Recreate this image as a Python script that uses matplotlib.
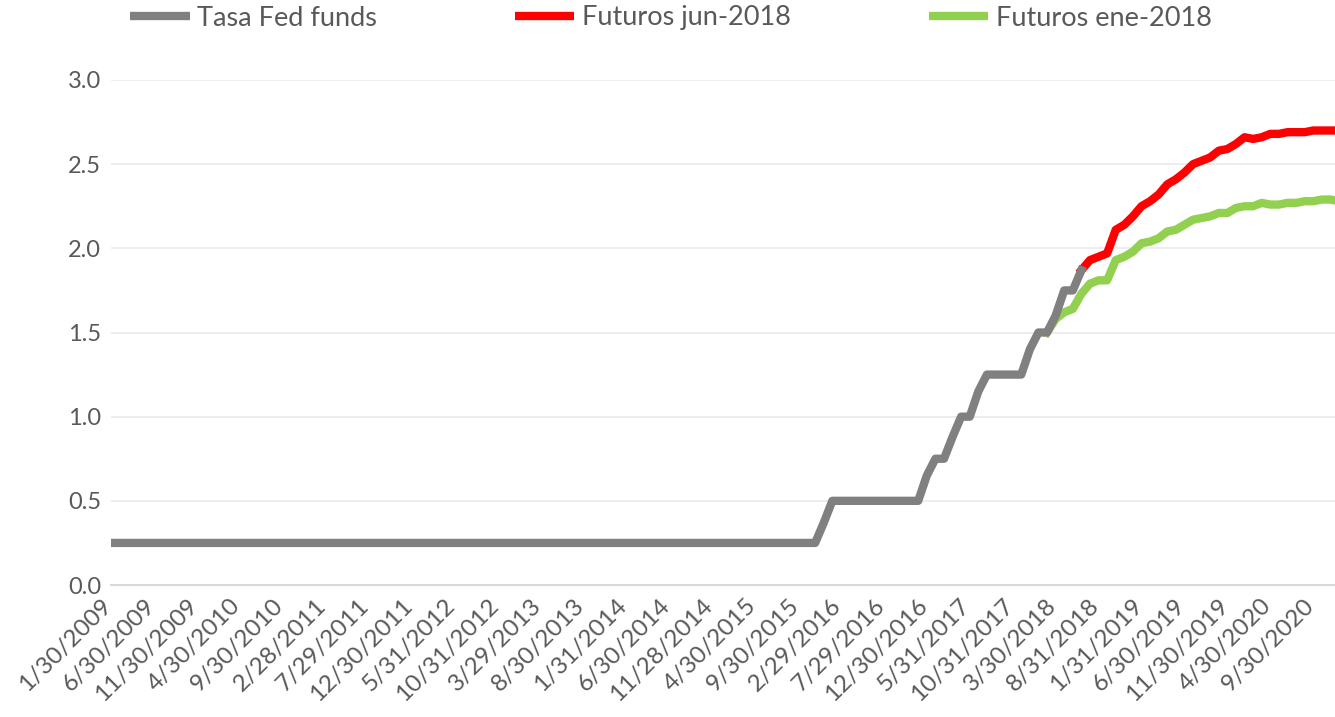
import numpy as np
import matplotlib.pyplot as plt
from matplotlib.transforms import ScaledTranslation

# Etiquetas del eje X (cada 5 meses, fin de mes hábil)
tick_labels = [
    "1/30/2009", "6/30/2009", "11/30/2009", "4/30/2010", "9/30/2010",
    "2/28/2011", "7/29/2011", "12/30/2011", "5/31/2012", "10/31/2012",
    "3/29/2013", "8/30/2013", "1/31/2014", "6/30/2014", "11/28/2014",
    "4/30/2015", "9/30/2015", "2/29/2016", "7/29/2016", "12/30/2016",
    "5/31/2017", "10/31/2017", "3/30/2018", "8/31/2018", "1/31/2019",
    "6/30/2019", "11/30/2019", "4/30/2020", "9/30/2020",
]
n_months = 144  # ene-2009 .. dic-2020

# Tasa Fed funds, mensual desde ene-2009 hasta jun-2018
fed_funds = [
    0.25, 0.25, 0.25, 0.25, 0.25, 0.25, 0.25, 0.25, 0.25, 0.25, 0.25, 0.25,
    0.25, 0.25, 0.25, 0.25, 0.25, 0.25, 0.25, 0.25, 0.25, 0.25, 0.25, 0.25,
    0.25, 0.25, 0.25, 0.25, 0.25, 0.25, 0.25, 0.25, 0.25, 0.25, 0.25, 0.25,
    0.25, 0.25, 0.25, 0.25, 0.25, 0.25, 0.25, 0.25, 0.25, 0.25, 0.25, 0.25,
    0.25, 0.25, 0.25, 0.25, 0.25, 0.25, 0.25, 0.25, 0.25, 0.25, 0.25, 0.25,
    0.25, 0.25, 0.25, 0.25, 0.25, 0.25, 0.25, 0.25, 0.25, 0.25, 0.25, 0.25,
    0.25, 0.25, 0.25, 0.25, 0.25, 0.25, 0.25, 0.25, 0.25, 0.25, 0.25, 0.37,
    0.50, 0.50, 0.50, 0.50, 0.50, 0.50, 0.50, 0.50, 0.50, 0.50, 0.50, 0.65,
    0.75, 0.75, 0.88, 1.00, 1.00, 1.15, 1.25, 1.25, 1.25, 1.25, 1.25, 1.40,
    1.50, 1.50, 1.60, 1.75, 1.75, 1.87,
]

# Futuros jun-2018, desde jun-2018
fut_jun18_start = 113
fut_jun18 = [
    1.87, 1.93, 1.95, 1.97, 2.11, 2.14, 2.19, 2.25, 2.28, 2.32, 2.38, 2.41,
    2.45, 2.50, 2.52, 2.54, 2.58, 2.59, 2.62, 2.66, 2.65, 2.66, 2.68, 2.68,
    2.69, 2.69, 2.69, 2.70, 2.70, 2.70, 2.70,
]

# Futuros ene-2018, desde feb-2018
fut_ene18_start = 109
fut_ene18 = [
    1.50, 1.58, 1.62, 1.64, 1.73, 1.79, 1.81, 1.81, 1.93, 1.95, 1.98, 2.03,
    2.04, 2.06, 2.10, 2.11, 2.14, 2.17, 2.18, 2.19, 2.21, 2.21, 2.24, 2.25,
    2.25, 2.27, 2.26, 2.26, 2.27, 2.27, 2.28, 2.28, 2.29, 2.29, 2.28,
]

plt.rcParams["font.family"] = ["Lato", "DejaVu Sans"]
txt_color = "#595959"

W, H = 1335, 717
fig = plt.figure(figsize=(W / 100, H / 100), dpi=100)
# el área de trazado sigue un poco más allá del borde derecho
ax = fig.add_axes([111 / W, 132 / H, (1339 - 111) / W, 505 / H])

lw = 6
ax.plot(np.arange(len(fed_funds)), fed_funds, color="#808080", lw=lw,
        solid_joinstyle="round", label="Tasa Fed funds", zorder=3)
ax.plot(np.arange(len(fut_jun18)) + fut_jun18_start, fut_jun18, color="#FF0000",
        lw=lw, solid_joinstyle="round", label="Futuros jun-2018", zorder=2)
ax.plot(np.arange(len(fut_ene18)) + fut_ene18_start, fut_ene18, color="#92D050",
        lw=lw, solid_joinstyle="round", label="Futuros ene-2018", zorder=2)

ax.set_xlim(0, n_months - 1)
ax.set_ylim(0, 3.0)
ax.set_yticks(np.arange(0, 3.01, 0.5))
ax.set_yticklabels([f"{v:.1f}" for v in np.arange(0, 3.01, 0.5)])

# etiquetas del eje X como texto, para poder desplazarlas como en Excel
tick_pos = np.arange(0, n_months, 5)
ax.set_xticks(tick_pos)
ax.set_xticklabels([])
lab_trans = ax.get_xaxis_transform() + ScaledTranslation(-10 / 100, -10 / 100,
                                                         fig.dpi_scale_trans)
for p, lab in zip(tick_pos, tick_labels):
    ax.text(p, 0, lab, transform=lab_trans, rotation=45, ha="right", va="top",
            rotation_mode="anchor", fontsize=17.5, color=txt_color, clip_on=False)

ax.grid(axis="y", color="#ececec", lw=1.3)
ax.set_axisbelow(True)
for s in ["top", "right", "left"]:
    ax.spines[s].set_visible(False)
ax.spines["bottom"].set_color("#d9d9d9")
ax.spines["bottom"].set_linewidth(1.5)
ax.tick_params(axis="both", length=0, colors=txt_color)
ax.tick_params(axis="y", labelsize=17, pad=7)

leg = fig.legend(loc="center left", bbox_to_anchor=(130 / W, 1 - 18 / H), ncol=3,
                 frameon=False, fontsize=19.5, handlelength=2.2,
                 handletextpad=0.27, columnspacing=5.1,
                 borderpad=0, borderaxespad=0)
for t in leg.get_texts():
    t.set_color(txt_color)
for h in leg.get_lines():
    h.set_linewidth(6)
    h.set_solid_capstyle("butt")

fig.savefig("out.png", dpi=100)
